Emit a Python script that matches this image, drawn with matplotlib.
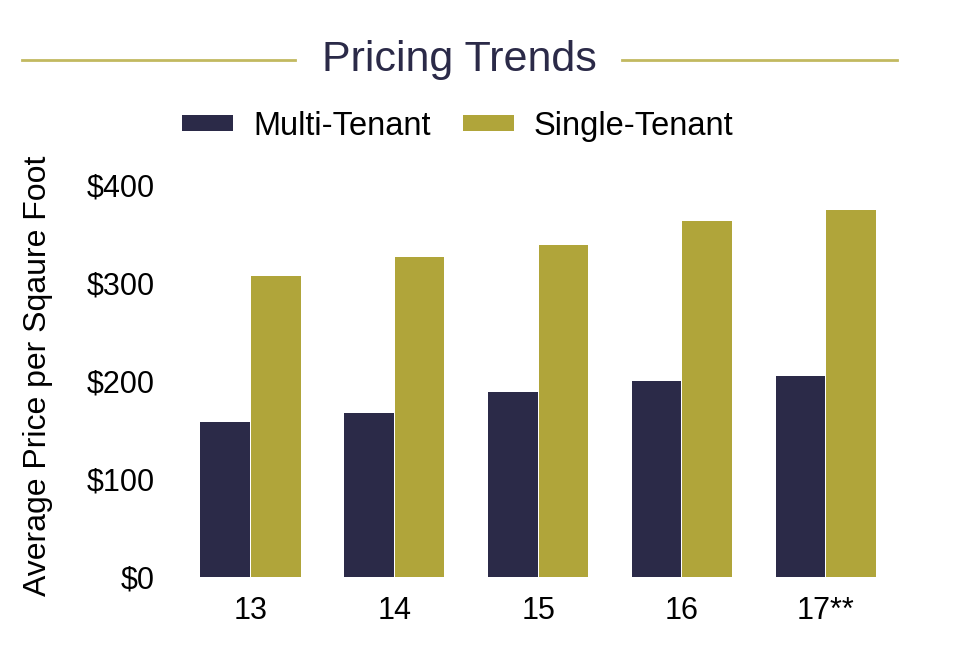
import numpy as np
import matplotlib
matplotlib.use("Agg")
from matplotlib import pyplot as plt
from matplotlib.lines import Line2D

years = ["13", "14", "15", "16", "17**"]
multi_tenant = [158, 167, 189, 200, 205]
single_tenant = [307, 326, 339, 363, 374]
yticks = [0, 100, 200, 300, 400]
ytick_labels = ["$0", "$100", "$200", "$300", "$400"]

navy = "#2b2a48"
gold = "#b0a53a"
line_gold = "#c2b960"

plt.rcParams["font.family"] = ["Liberation Sans", "DejaVu Sans"]

fig = plt.figure(figsize=(9.6, 6.55), dpi=100)
ax = fig.add_axes([0.186, 0.119, 0.749, 0.599])

x = np.arange(len(years))
w = 0.345
ax.bar(x - w / 2 - 0.004, multi_tenant, width=w, color=navy, label="Multi-Tenant")
ax.bar(x + w / 2 + 0.004, single_tenant, width=w, color=gold, label="Single-Tenant")

ax.set_xlim(-0.5, 4.5)
ax.set_ylim(0, 400)
ax.set_xticks(x)
ax.set_xticklabels(years, fontsize=22)
ax.set_yticks(yticks)
ax.set_yticklabels(ytick_labels, fontsize=22)
ax.tick_params(length=0)
ax.tick_params(axis="y", pad=17)
ax.tick_params(axis="x", pad=14)
for s in ax.spines.values():
    s.set_visible(False)

fig.text(0.040, 0.427, "Average Price per Sqaure Foot", rotation=90,
         ha="center", va="center", fontsize=23)

# title with lines on both sides
fig.text(0.479, 0.908, "Pricing Trends", ha="center", va="center",
         fontsize=31, color=navy)
fig.add_artist(Line2D([0.023, 0.307], [0.908, 0.908], color=line_gold, lw=2))
fig.add_artist(Line2D([0.648, 0.934], [0.908, 0.908], color=line_gold, lw=2))

fig.legend(loc="center", bbox_to_anchor=(0.477, 0.807), ncol=2, frameon=False,
           fontsize=23.5, handlelength=1.55, handleheight=0.38, columnspacing=1.0,
           handletextpad=0.62)

fig.savefig("out.png", dpi=100, facecolor="white")
